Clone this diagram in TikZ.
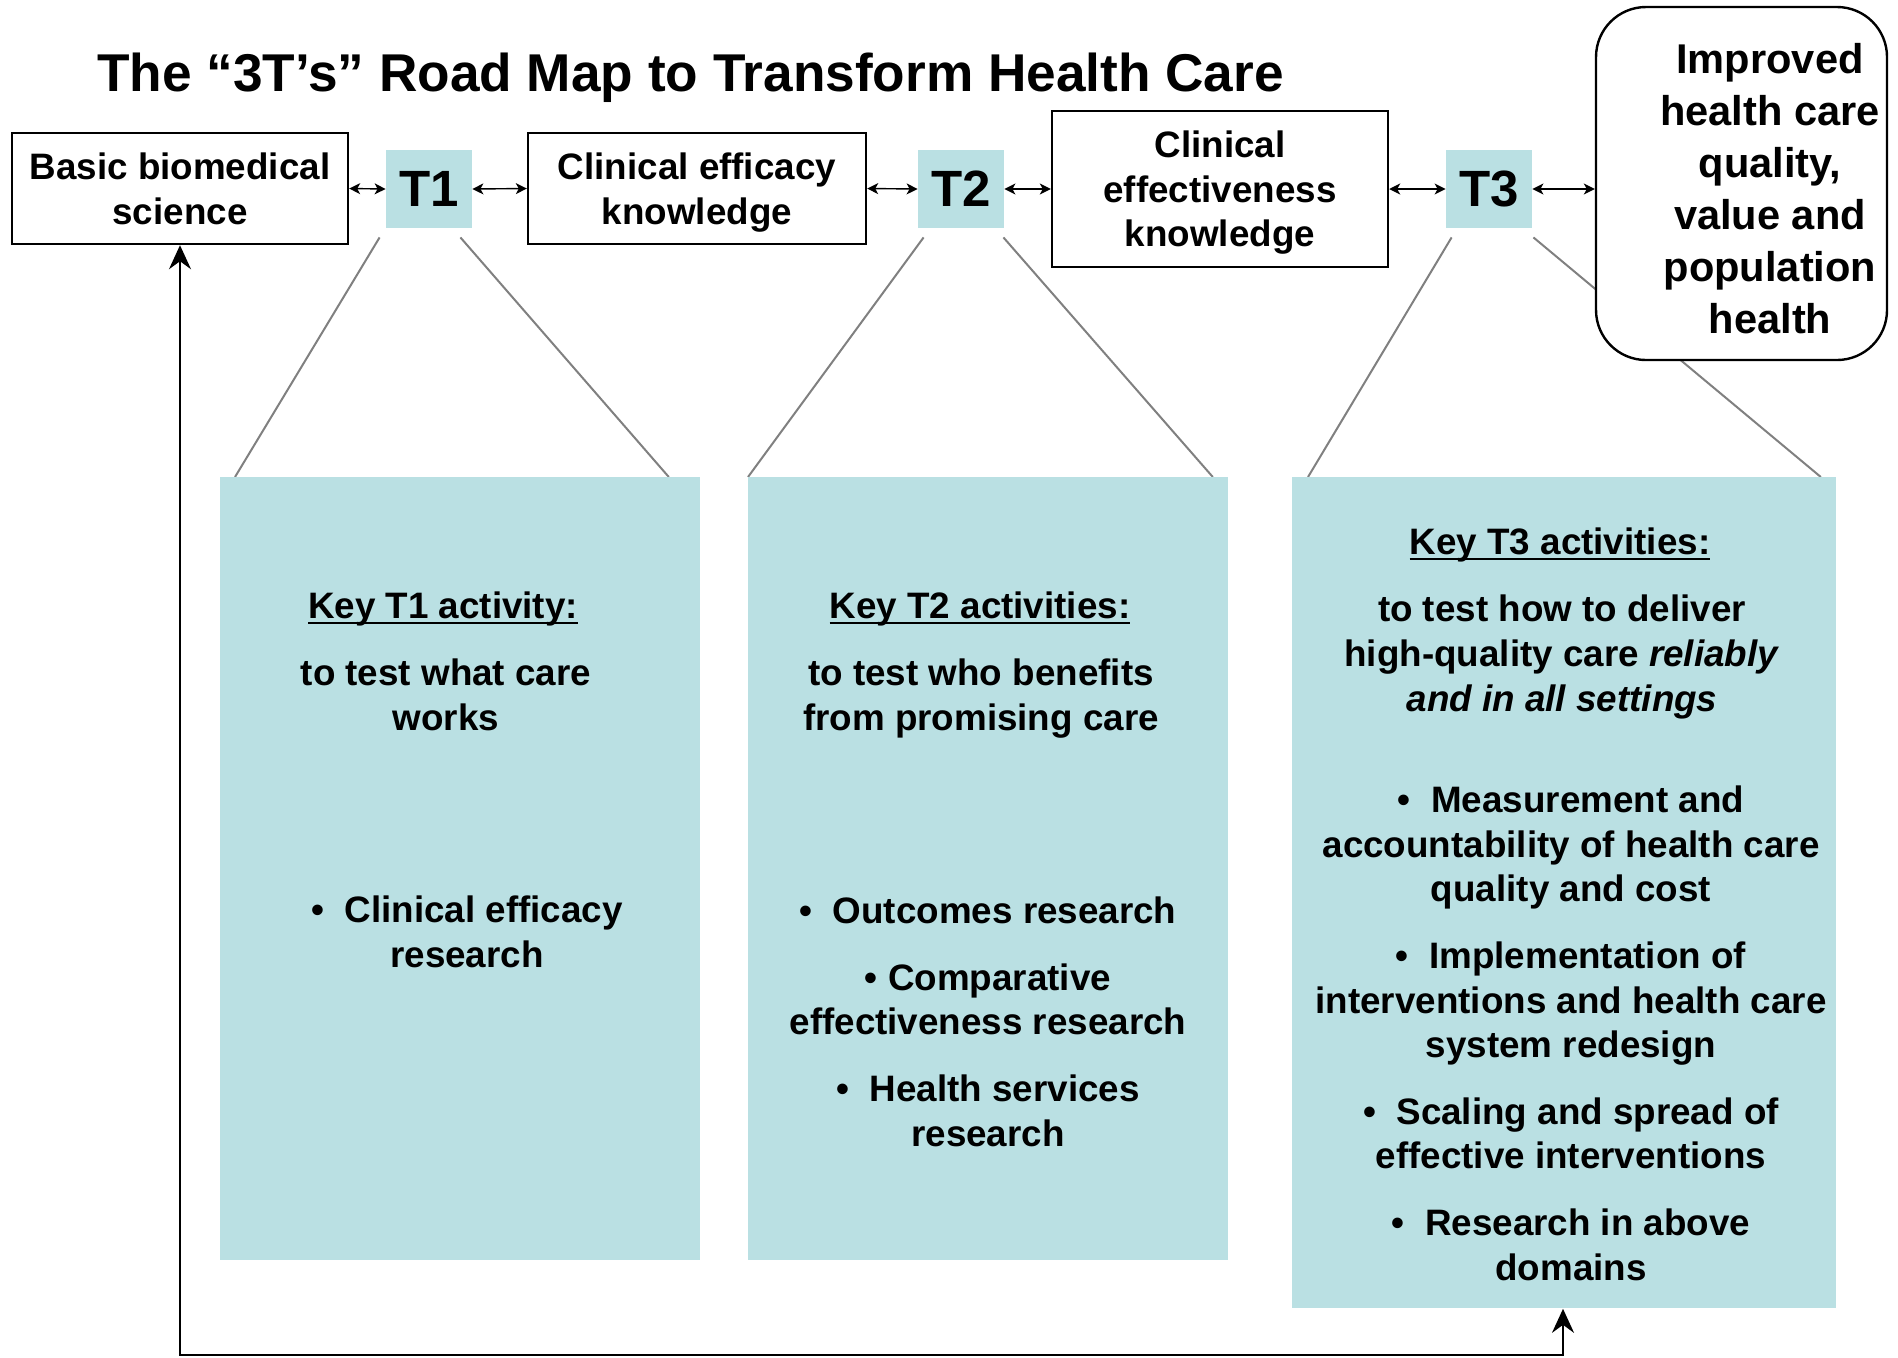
\documentclass[tikz,border=0pt]{standalone}
\usepackage{fontspec}
\setmainfont{Liberation Sans}
\usetikzlibrary{positioning, arrows.meta, calc, backgrounds}
\definecolor{panelblue}{RGB}{186,224,227}
\definecolor{zoomgray}{RGB}{128,128,128}
\newcommand{\keyline}[1]{\setbox0\hbox{#1}\rlap{\rule[-3pt]{\wd0}{0.8pt}}\box0}

\begin{document}
\begin{tikzpicture}[x=0.5pt, y=-0.5pt,
                    every node/.style={font=\bfseries\fontsize{18.4}{22.3}\selectfont, align=center},
                    stage/.style={draw, line width=1.2pt, inner sep=0pt, text depth=0pt},
                    tbox/.style={fill=panelblue, minimum width=43pt, minimum height=39pt,
                                 inner sep=0pt, font=\bfseries\fontsize{25.5}{30}\selectfont},
                    panel/.style={fill=panelblue, anchor=north west, inner sep=0pt},
                    txt/.style={anchor=base, inner sep=0pt},
                    link/.style={<->, line width=0.7pt, >={Stealth[length=5.5pt,width=5.5pt,inset=1.5pt]}},
                    zoomline/.style={draw=zoomgray, line width=1pt},
                    feedback/.style={<->, line width=1pt, >={Stealth[length=12pt,width=11pt,inset=4pt]}}]
\useasboundingbox (0,0) rectangle (1898,1357);

\node[anchor=base west, inner sep=0pt, font=\bfseries\fontsize{26.6}{30}\selectfont] (title)
  at (97,91) {The “3T’s” Road Map to Transform Health Care};

% top row: stages of knowledge and the three translations
\node[stage, minimum width=168pt, minimum height=55.5pt] (basic) at (180,188.5) {Basic biomedical\\science};
\node[tbox] (tone) at (429,189) {T1};
\node[stage, minimum width=169pt, minimum height=55.5pt] (efficacy) at (697,188.5) {Clinical efficacy\\knowledge};
\node[tbox] (ttwo) at (961,189) {T2};
\node[stage, minimum width=168pt, minimum height=78pt] (effect) at (1220,189) {Clinical\\effectiveness\\knowledge};
\node[tbox] (tthree) at (1489,189) {T3};
\node[stage, fill=white, rounded corners=25pt, minimum width=145.5pt, minimum height=176.5pt] (improved)
  at (1741.5,183.5) {};
% multi-line nodes sit on the baseline of their last line
\node[txt, font=\bfseries\fontsize{20.8}{26}\selectfont] (improvedtext) at (1770,333)
  {Improved\\health care\\quality,\\value and\\population\\health};

\draw[link] (basic.east) -- (tone.west);
\draw[link] (tone.east) -- (efficacy.west);
\draw[link] (efficacy.east) -- (ttwo.west);
\draw[link] (ttwo.east) -- (effect.west);
\draw[link] (effect.east) -- (tthree.west);
\draw[link] (tthree.east) -- (tthree.east -| improved.west);

% activity panels
\node[panel, minimum width=240pt, minimum height=391.5pt] (panelone) at (220,477) {};
\node[panel, minimum width=240pt, minimum height=391.5pt] (paneltwo) at (748,477) {};
\node[panel, minimum width=272pt, minimum height=415.5pt] (panelthree) at (1292,477) {};

\node[txt] (keyone) at (443,618) {\keyline{Key T1 activity:}};
\node[txt] (aimone) at (446,730) {to test what care\\works};
\node[txt] (listone) at (467,967) {\textbullet\ \ Clinical efficacy\\research};

\node[txt] (keytwo) at (980,618) {\keyline{Key T2 activities:}};
\node[txt] (aimtwo) at (981,730) {to test who benefits\\from promising care};
\node[txt] (listtwo) at (988,1146) {\textbullet\ \ Outcomes research\\[11pt]
  \textbullet\ Comparative\\effectiveness research\\[11pt]
  \textbullet\ \ Health services\\research};

\node[txt] (keythree) at (1560,554) {\keyline{Key T3 activities:}};
\node[txt] (aimthree) at (1562,711) {to test how to deliver\\high-quality care \textit{reliably}\\\textit{and in all settings}};
\node[txt] (listthree) at (1571,1280) {\textbullet\ \ Measurement and\\accountability of health care\\quality and cost\\[11pt]
  \textbullet\ \ Implementation of\\interventions and health care\\system redesign\\[11pt]
  \textbullet\ \ Scaling and spread of\\effective interventions\\[11pt]
  \textbullet\ \ Research in above\\domains};

% zoom lines from each T down to its panel
\begin{scope}[on background layer]
\draw[zoomline] ($(tone.south west)+(-6,9)$) -- ($(panelone.north west)+(15,0)$);
\draw[zoomline] ($(tone.south east)+(-12,9)$) -- ($(panelone.north east)+(-32,0)$);
\draw[zoomline] ($(ttwo.south west)+(6,9)$) -- (paneltwo.north west);
\draw[zoomline] ($(ttwo.south east)+(-1,9)$) -- ($(paneltwo.north east)+(-16,0)$);
\draw[zoomline] ($(tthree.south west)+(6,9)$) -- ($(panelthree.north west)+(16,0)$);
\draw[zoomline] ($(tthree.south east)+(1,9)$) -- ($(panelthree.north east)+(-16,0)$);
\end{scope}

% feedback loop
\coordinate (loopleft) at (180,1355);
\coordinate (loopright) at (1563,1355);
\draw[feedback] (basic.south) -- (loopleft) -- (loopright) -- (loopright |- panelthree.south);
\end{tikzpicture}
\end{document}
